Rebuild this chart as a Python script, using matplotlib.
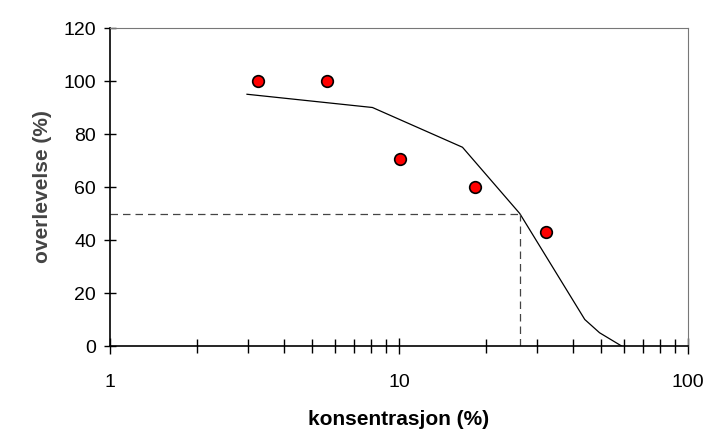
import matplotlib.pyplot as plt
import numpy as np

plt.rcParams['font.family'] = ['Liberation Sans', 'DejaVu Sans']

conc = [3.25, 5.65, 10.1, 18.3, 32.2]
surv = [100, 100, 70.5, 60, 43]
fit_x = [2.98, 8.1, 16.6, 26.2, 44.0, 49.5, 59.0]
fit_y = [95, 90, 75, 50, 10, 5, 0]
lc50 = 26.2

fig = plt.figure(figsize=(7.12, 4.41), dpi=100)
ax = fig.add_axes([0.1545, 0.2154, 0.8115, 0.7211])
ax.set_xscale('log')
ax.set_xlim(1, 100)
ax.set_ylim(0, 120)

ax.plot(fit_x, fit_y, color='black', lw=0.9)
ax.plot([1, lc50], [50, 50], color='#444444', lw=0.9, ls=(0, (6, 4)))
ax.plot([lc50, lc50], [0, 50], color='#444444', lw=0.9, ls=(0, (6, 4)))
ax.scatter(conc, surv, s=70, color='red', edgecolor='black', linewidth=1.2, zorder=5)

ax.set_yticks(np.arange(0, 121, 20))
for s in ['top', 'right']:
    ax.spines[s].set_color('#777777')
for s in ['left', 'bottom']:
    ax.spines[s].set_linewidth(1.2)
ax.tick_params(which='both', direction='inout', labelsize=14)
ax.tick_params(which='major', length=12, width=1)
ax.tick_params(which='minor', length=10, width=1)
ax.tick_params(axis='y', length=8, pad=6)
ax.tick_params(axis='x', pad=14)
ax.xaxis.set_major_formatter(plt.FuncFormatter(lambda v, p: f"{v:g}"))
ax.xaxis.set_minor_formatter(plt.NullFormatter())

ax.set_xlabel('konsentrasjon (%)', fontsize=15, fontweight='bold', labelpad=14)
ax.set_ylabel('overlevelse (%)', fontsize=15, fontweight='bold', color='#444444', labelpad=8)

fig.savefig('out.png')
